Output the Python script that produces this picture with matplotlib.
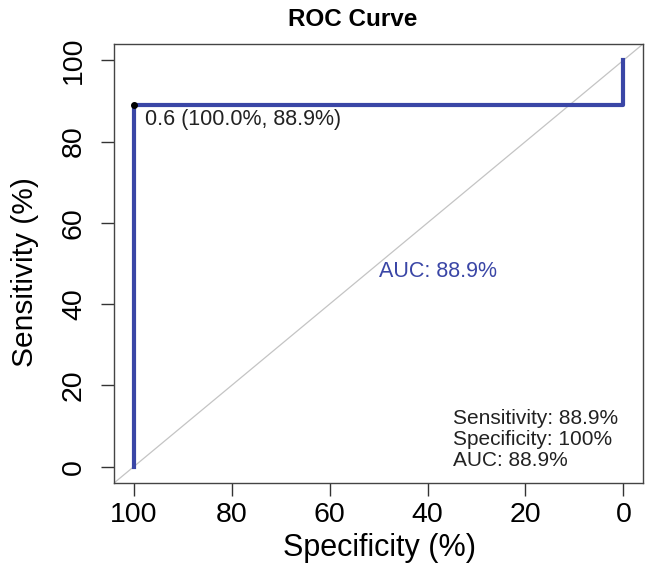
import matplotlib
matplotlib.use("Agg")
import matplotlib.pyplot as plt

plt.rcParams['font.family'] = ['Liberation Sans', 'DejaVu Sans']

# ROC curve points (specificity %, sensitivity %)
specificity = [100, 100, 0, 0]
sensitivity = [0, 88.9, 88.9, 100]

best_threshold = 0.6
best_spec = 100.0
best_sens = 88.9
auc = 88.9

stats_lines = ["Sensitivity: 88.9%", "Specificity: 100%", "AUC: 88.9%"]

roc_color = '#3a46a6'
text_color = '#222222'

fig = plt.figure(figsize=(6.46, 5.69), dpi=100)
ax = fig.add_axes([0.1765, 0.1511, 0.8189, 0.7716])

# chance diagonal
ax.axline((100, 0), (0, 100), color='#c4c4c4', linewidth=0.9, zorder=1)

ax.plot(specificity, sensitivity, color=roc_color, linewidth=3, zorder=3)

# best threshold
ax.plot(best_spec, best_sens, 'o', color='black', markersize=4, zorder=4)
ax.text(best_spec - 2.4, best_sens - 1.0,
        f"{best_threshold} ({best_spec:.1f}%, {best_sens:.1f}%)",
        fontsize=15.5, ha='left', va='top', color=text_color)

ax.text(50, 50.5, f"AUC: {auc:.1f}%", fontsize=15.5, ha='left', va='top', color=roc_color)

ax.text(34.7, 14.2, "\n".join(stats_lines), fontsize=15, ha='left', va='top',
        color=text_color, linespacing=1.13)

ax.set_xlim(104, -4)
ax.set_ylim(-4, 104)
ax.set_xticks([100, 80, 60, 40, 20, 0])
ax.set_yticks([0, 20, 40, 60, 80, 100])
ax.tick_params(axis='both', labelsize=20.5, length=9.5, width=1, color='#333333')
ax.tick_params(axis='x', pad=4)
ax.tick_params(axis='y', pad=10, labelrotation=90)
for lbl in ax.get_yticklabels():
    lbl.set_va('center')
for sp in ax.spines.values():
    sp.set_color('#444444')
    sp.set_linewidth(1)

fig.text(0.588, 0.037, "Specificity (%)", fontsize=22, ha='center', va='center')
fig.text(0.0387, 0.522, "Sensitivity (%)", fontsize=21.5, ha='center', va='center',
         rotation=90)
fig.text(0.546, 0.965, "ROC Curve", fontsize=17.5, fontweight='bold', ha='center', va='center')

fig.savefig("out.png", dpi=100)
